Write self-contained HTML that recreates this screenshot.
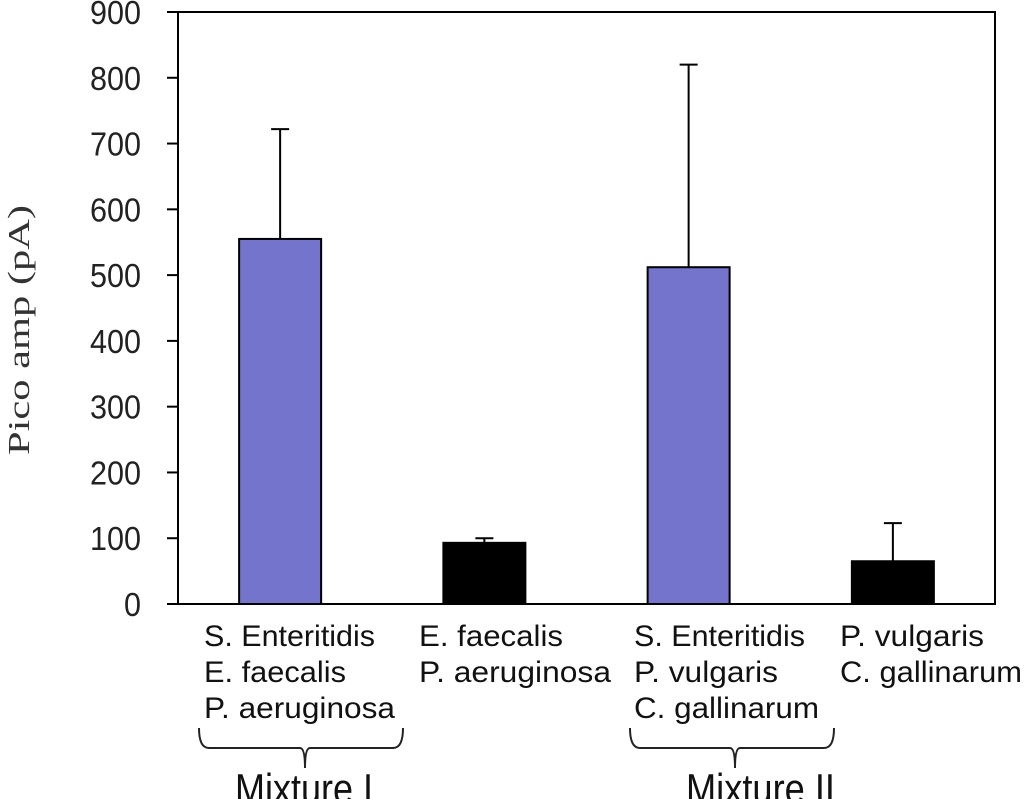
<!DOCTYPE html>
<html><head><meta charset="utf-8"><style>
html,body{margin:0;padding:0;background:#fff;}
svg{display:block;}
</style></head><body>
<svg id="chart" width="1024" height="799" viewBox="0 0 1024 799" xmlns="http://www.w3.org/2000/svg" font-family="Liberation Sans, Arial, sans-serif">
<g id="plot"></g>
<text transform="translate(29,330) rotate(-90)" text-anchor="middle" font-family="Liberation Serif, serif" font-size="31" textLength="250" lengthAdjust="spacingAndGlyphs" fill="#333">Pico amp (pA)</text>
<g font-size="30" fill="#111">
<text x="204" y="646" textLength="171" lengthAdjust="spacingAndGlyphs">S. Enteritidis</text>
<text x="204" y="682" textLength="142" lengthAdjust="spacingAndGlyphs">E. faecalis</text>
<text x="204" y="718" textLength="191" lengthAdjust="spacingAndGlyphs">P. aeruginosa</text>
<text x="419" y="646" textLength="144" lengthAdjust="spacingAndGlyphs">E. faecalis</text>
<text x="419" y="682" textLength="192" lengthAdjust="spacingAndGlyphs">P. aeruginosa</text>
<text x="634" y="646" textLength="171" lengthAdjust="spacingAndGlyphs">S. Enteritidis</text>
<text x="634" y="682" textLength="144" lengthAdjust="spacingAndGlyphs">P. vulgaris</text>
<text x="634" y="718" textLength="185" lengthAdjust="spacingAndGlyphs">C. gallinarum</text>
<text x="840" y="646" textLength="144" lengthAdjust="spacingAndGlyphs">P. vulgaris</text>
<text x="840" y="682" textLength="182" lengthAdjust="spacingAndGlyphs">C. gallinarum</text>
</g>
<path d="M199 728 Q199 748 209 748 L300 748 Q305 748 305 768 Q305 748 310 748 L393 748 Q403 748 403 728" fill="none" stroke="#222" stroke-width="2"/>
<path d="M630 728 Q630 748 640 748 L730 748 Q735 748 735 768 Q735 748 740 748 L824 748 Q834 748 834 728" fill="none" stroke="#222" stroke-width="2"/>
<text x="235" y="803" font-size="42" textLength="138" lengthAdjust="spacingAndGlyphs" fill="#111">Mixture I</text>
<text x="686" y="803" font-size="42" textLength="149" lengthAdjust="spacingAndGlyphs" fill="#111">Mixture II</text>
</svg>
<script>
const categories = ["Mixture I", "E. faecalis + P. aeruginosa", "Mixture II", "P. vulgaris + C. gallinarum"];
const values = [555, 93, 512, 65];
const errors = [167, 7, 308, 58];
const colors = ["#7474cc", "#000000", "#7474cc", "#000000"];
const ticks = [0, 100, 200, 300, 400, 500, 600, 700, 800, 900];

const NS = "http://www.w3.org/2000/svg";
const L = 178, R = 995, T = 12, B = 604, YMAX = 900;
const y = v => B - v / YMAX * (B - T);
const bw = (R - L) / categories.length;
const xc = i => L + bw * (i + 0.5);
const g = document.getElementById('plot');
function mk(tag, attrs) { const e = document.createElementNS(NS, tag); for (const k in attrs) e.setAttribute(k, attrs[k]); g.appendChild(e); return e; }

values.forEach((v, i) => {
  const bar = mk('rect', { x: xc(i) - 41, y: y(v), width: 82, height: B - y(v), fill: colors[i], stroke: '#000', 'stroke-width': 2 });
  
  
  const top = y(v + errors[i]);
  const el = mk('path', { d: `M${xc(i)} ${y(v)} V${top} M${xc(i) - 9} ${top} H${xc(i) + 9}`, stroke: '#000', 'stroke-width': 2, fill: 'none' });
  
  
});
const frame = mk('rect', { x: L, y: T, width: R - L, height: B - T, fill: 'none', stroke: '#000', 'stroke-width': 2 });


ticks.forEach(t => {
  const tk = mk('line', { x1: L - 11, x2: L, y1: y(t), y2: y(t), stroke: '#000', 'stroke-width': 2 });
  
  
  const lb = mk('text', { x: 141, y: y(t) + 12, 'text-anchor': 'end', 'font-size': 33, fill: '#222' });
  const s = String(t);
  lb.setAttribute('textLength', 17 * s.length);
  lb.setAttribute('lengthAdjust', 'spacingAndGlyphs');
  lb.textContent = s;
  
  
});
</script>
</body></html>
